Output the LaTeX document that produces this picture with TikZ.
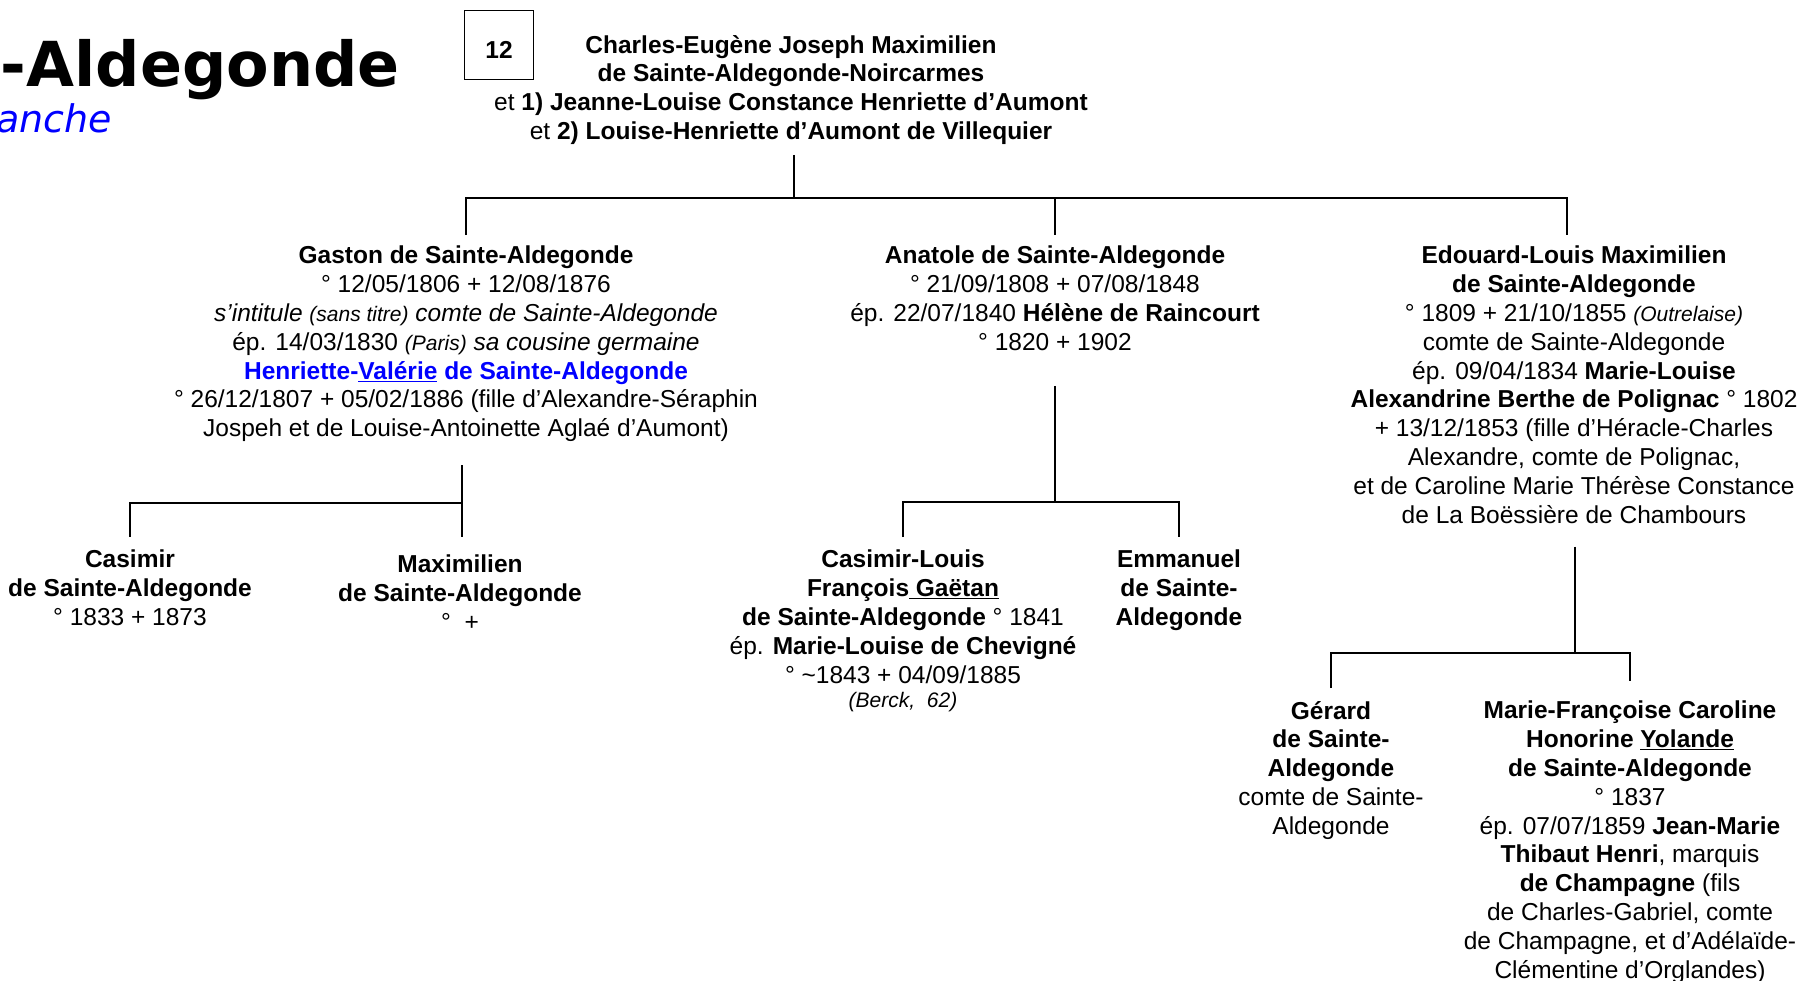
\documentclass[tikz,border=0pt]{standalone}
\usepackage{fontspec}
\setmainfont{Liberation Sans}
\newfontfamily\titlefont{DejaVu Sans}
\usepackage{tikz}
\usetikzlibrary{calc}
\newcommand{\smallit}{\fontsize{21}{24}\selectfont\itshape}

\begin{document}
\begin{tikzpicture}[x=1pt, y=-1pt,
		person/.style={align=center, inner sep=0pt, font=\fontsize{24.5}{28.8}\selectfont},
		link/.style={line width=2.4pt}]
		% page
		\fill[white] (0,0) rectangle (1804,980);
		\useasboundingbox (0,0) rectangle (1804,980);
		% heading
		\node[anchor=base east, inner sep=0pt, font=\titlefont\fontsize{62}{62}\selectfont\bfseries] (title) at (400,86) {-Aldegonde};
		\node[anchor=base east, inner sep=0pt, text=blue, font=\titlefont\fontsize{38}{38}\selectfont\itshape] (branch) at (112,132) {anche};
		\node[draw, line width=1.2pt, minimum size=69pt, inner sep=0pt, text height=26.7pt, text depth=0pt, font=\fontsize{24.5}{28.8}\selectfont\bfseries] (num) at (499,45) {12};
		% parents
		\node[person, anchor=north] (top) at (791,35) {\textbf{Charles-Eugène Joseph Maximilien}\\
			\textbf{de Sainte-Aldegonde-Noircarmes}\\
			et \textbf{1) Jeanne-Louise Constance Henriette d’Aumont}\\
			et \textbf{2) Louise-Henriette d’Aumont de Villequier}};
		% children
		\node[person, anchor=north] (gaston) at (466,246) {\textbf{Gaston de Sainte-Aldegonde}\\
			° 12/05/1806 + 12/08/1876\\
			\textit{s’intitule {\smallit(sans titre)} comte de Sainte-Aldegonde}\\
			ép. 14/03/1830 {\smallit(Paris)} \textit{sa cousine germaine}\\
			\textcolor{blue}{\textbf{Henriette-\underline{Valérie} de Sainte-Aldegonde}}\\
			° 26/12/1807 + 05/02/1886 (fille d’Alexandre-Séraphin\\
			Jospeh et de Louise-Antoinette Aglaé d’Aumont)};
		\node[person, anchor=north] (anatole) at (1055,246) {\textbf{Anatole de Sainte-Aldegonde}\\
			° 21/09/1808 + 07/08/1848\\
			ép. 22/07/1840 \textbf{Hélène de Raincourt}\\
			° 1820 + 1902};
		\node[person, anchor=north] (edouard) at (1574,246) {\textbf{Edouard-Louis Maximilien}\\
			\textbf{de Sainte-Aldegonde}\\
			° 1809 + 21/10/1855 {\smallit(Outrelaise)}\\
			comte de Sainte-Aldegonde\\
			ép. 09/04/1834 \textbf{Marie-Louise}\\
			\textbf{Alexandrine Berthe de Polignac} ° 1802\\
			+ 13/12/1853 (fille d’Héracle-Charles\\
			Alexandre, comte de Polignac,\\
			et de Caroline Marie Thérèse Constance\\
			de La Boëssière de Chambours};
		% grandchildren
		\node[person, anchor=north] (casimir) at (130,550) {\textbf{Casimir}\\
			\textbf{de Sainte-Aldegonde}\\
			° 1833 + 1873};
		\node[person, anchor=north] (maximilien) at (460,555) {\textbf{Maximilien}\\
			\textbf{de Sainte-Aldegonde}\\
			° \ +};
		\node[person, anchor=north] (casimirlouis) at (903,550) {\textbf{Casimir-Louis}\\
			\textbf{François\underline{ Gaëtan}}\\
			\textbf{de Sainte-Aldegonde} ° 1841\\
			ép. \textbf{Marie-Louise de Chevigné}\\
			° \textasciitilde1843 + 04/09/1885\\[-4pt]
			{\smallit(Berck,\ \ 62)}};
		\node[person, anchor=north] (emmanuel) at (1179,550) {\textbf{Emmanuel}\\
			\textbf{de Sainte-}\\
			\textbf{Aldegonde}};
		\node[person, anchor=north] (gerard) at (1331,701) {\textbf{Gérard}\\
			\textbf{de Sainte-}\\
			\textbf{Aldegonde}\\
			comte de Sainte-\\
			Aldegonde};
		\node[person, anchor=north] (mariefr) at (1630,701) {\textbf{Marie-Françoise Caroline}\\
			\textbf{Honorine \underline{Yolande}}\\
			\textbf{de Sainte-Aldegonde}\\
			° 1837\\
			ép. 07/07/1859 \textbf{Jean-Marie}\\
			\textbf{Thibaut Henri}, marquis\\
			\textbf{de Champagne} (fils\\
			de Charles-Gabriel, comte\\
			de Champagne, et d’Adélaïde-\\
			Clémentine d’Orglandes)};
		% junctions
		\coordinate (j0) at (794,198);
		\coordinate (j0e) at (1567,198);
		\coordinate (j1) at (462,503);
		\coordinate (j2) at (1055,502);
		\coordinate (j3) at (1575,653);
		% lines
		\draw[link, shorten <=10pt] (top.south -| j0) -- (j0);
		\draw[link, shorten <=11pt, shorten >=11pt] (gaston.north) |- (j0e) -- (j0e |- edouard.north);
		\draw[link, shorten >=11pt] (j0 -| anatole.north) -- (anatole.north);
		\draw[link, shorten <=23pt, shorten >=18pt] (gaston.south -| j1) -- (j1 |- maximilien.north);
		\draw[link, shorten >=13pt] (j1) -| (casimir.north);
		\draw[link, shorten <=35pt] (anatole.south) -- (j2);
		\draw[link, shorten <=13pt, shorten >=13pt] (casimirlouis.north) |- (j2) -| (emmanuel.north);
		\draw[link, shorten <=23pt] (edouard.south -| j3) -- (j3);
		\draw[link, shorten <=13pt, shorten >=20pt] (gerard.north) |- (j3) -| (mariefr.north);
	\end{tikzpicture}
\end{document}
